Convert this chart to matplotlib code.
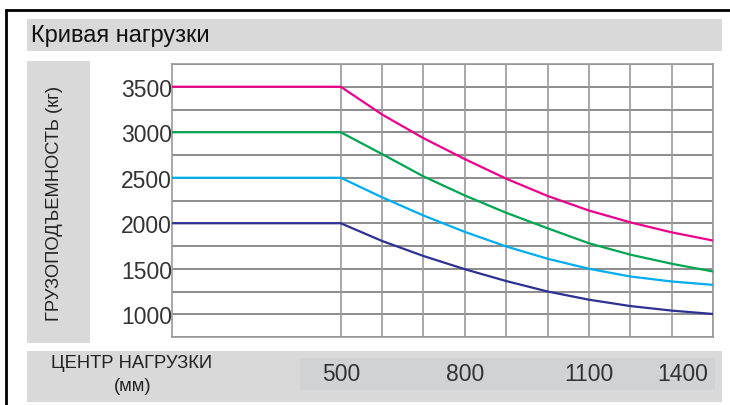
import matplotlib
matplotlib.use("Agg")
import matplotlib.pyplot as plt
from matplotlib.patches import Rectangle
from matplotlib.lines import Line2D
from matplotlib import transforms

plt.rcParams['font.family'] = ['Liberation Sans', 'DejaVu Sans']

# ---------------- data ----------------
title = "Кривая нагрузки"
ylabel = "ГРУЗОПОДЪЕМНОСТЬ (кг)"
xlabel_lines = ["ЦЕНТР НАГРУЗКИ", "(мм)"]

x_left = 92  # left edge of the compressed (flat) region
load_centers = [x_left, 500, 600, 700, 800, 900, 1000, 1100, 1200, 1300, 1400]
cap_3500 = [3500, 3500, 3195, 2935, 2705, 2490, 2300, 2140, 2010, 1900, 1810]
cap_3000 = [3000, 3000, 2760, 2515, 2305, 2115, 1945, 1780, 1655, 1555, 1470]
cap_2500 = [2500, 2500, 2285, 2085, 1905, 1745, 1610, 1500, 1415, 1360, 1323]
cap_2000 = [2000, 2000, 1805, 1640, 1495, 1365, 1250, 1160, 1090, 1040, 1003]

series = [cap_3500, cap_3000, cap_2500, cap_2000]
colors = ["#ec008c", "#00a651", "#00aeef", "#2e3192"]

y_ticks = [1000, 1500, 2000, 2500, 3000, 3500]
x_tick_labels = [500, 800, 1100, 1400]
x_grid = [500, 600, 700, 800, 900, 1000, 1100, 1200, 1300, 1400]
y_min, y_max = 750, 3750

# ---------------- figure ----------------
W, H = 730, 406
fig = plt.figure(figsize=(W / 100, H / 100), dpi=100)
fig.patch.set_facecolor("white")


def px_rect(x0, y0, x1, y1, color, z=0):
    fig.add_artist(Rectangle((x0 / W, 1 - y1 / H), (x1 - x0) / W, (y1 - y0) / H,
                             transform=fig.transFigure, facecolor=color,
                             edgecolor="none", zorder=z))


def px_line(xs, ys, color, lw):
    fig.add_artist(Line2D([x / W for x in xs], [1 - y / H for y in ys],
                          transform=fig.transFigure, color=color, lw=lw,
                          solid_capstyle="butt", zorder=5))


# outer frame (top + left)
px_line([5, 730], [11, 11], "black", 2.0)
px_line([5.5, 5.5], [10, 406], "black", 2.0)

# title bar
px_rect(27, 20, 722, 52, "#d9d9d9")
fig.text(31 / W, 1 - 36 / H, title, fontsize=17, color="#111111",
         ha="left", va="center")

# y-label box
px_rect(27, 62, 90, 344, "#d9d9d9")
fig.text(55 / W, 1 - 203 / H, ylabel, fontsize=13.2, color="#222222",
         rotation=90, ha="center", va="center")

# bottom bar
px_rect(27, 352, 722, 403, "#d9d9d9")
px_rect(300, 359, 715, 391, "#d1d2d4")
fig.text(132 / W, 1 - 364 / H, xlabel_lines[0], fontsize=13.2, color="#222222",
         ha="center", va="center")
fig.text(133 / W, 1 - 387 / H, xlabel_lines[1], fontsize=13.2, color="#222222",
         ha="center", va="center")

# ---------------- axes ----------------
ax_l, ax_t, ax_r, ax_b = 172, 65, 713, 338
ax = fig.add_axes([ax_l / W, 1 - ax_b / H, (ax_r - ax_l) / W, (ax_b - ax_t) / H])
ax.set_facecolor("white")
ax.set_xlim(x_left, 1400)
ax.set_ylim(y_min, y_max)

for v in range(y_min, y_max + 1, 250):
    ax.axhline(v, color="#6e6e6e", lw=1.1, zorder=1)
for xv in x_grid:
    ax.axvline(xv, color="#9a9a9a", lw=1.2, zorder=1)

for s, c in zip(series, colors):
    ax.plot(load_centers, s, color=c, lw=1.6, zorder=3, solid_joinstyle="round")

for sp in ax.spines.values():
    sp.set_color("#9a9a9a")
    sp.set_linewidth(1.2)

ax.set_yticks(y_ticks)
ax.set_yticklabels([str(v) for v in y_ticks], fontsize=16.5, color="#333333")
ax.tick_params(axis="y", length=0, pad=0)
ax.set_xticks([])

trans = transforms.blended_transform_factory(ax.transData, fig.transFigure)
for v in x_tick_labels:
    if v == x_tick_labels[-1]:
        t = transforms.offset_copy(trans, fig=fig, x=-5, y=0, units="dots")
        ax.text(v, 1 - 375 / H, str(v), transform=t, fontsize=16.5,
                color="#333333", ha="right", va="center", clip_on=False)
    else:
        ax.text(v, 1 - 375 / H, str(v), transform=trans, fontsize=16.5,
                color="#333333", ha="center", va="center", clip_on=False)

fig.savefig("out.png", dpi=100)
